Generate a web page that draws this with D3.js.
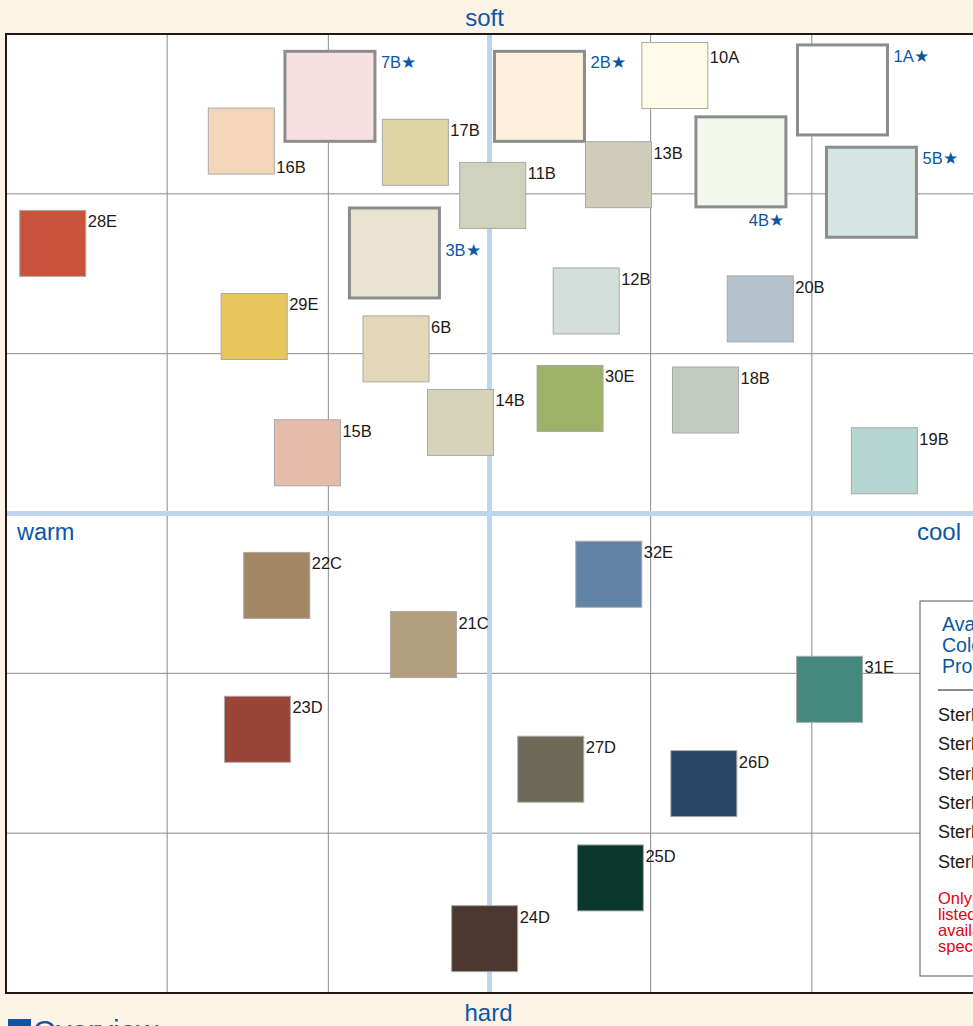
<!DOCTYPE html>
<html>
<head>
<meta charset="utf-8">
<script src="https://cdn.jsdelivr.net/npm/d3@7"></script>
<style>
  body { margin: 0; background: #fdf3e6; overflow: hidden; }
  svg { display: block; font-family: "Liberation Sans", Arial, sans-serif; }
</style>
</head>
<body>
<svg id="chart"></svg>
<script>
// colour chips: code, warm(-)/cool(+) position, hard(-)/soft(+) position, chip colour
const codes = ["28E", "16B", "7B", "17B", "11B", "3B", "2B", "10A", "13B", "4B", "1A", "5B",
               "29E", "6B", "12B", "20B", "15B", "14B", "30E", "18B", "19B",
               "22C", "21C", "32E", "31E", "23D", "27D", "26D", "25D", "24D"];
const warmCool = [-2.71, -1.54, -0.99, -0.46, 0.02, -0.59, 0.31, 1.15, 0.80, 1.56, 2.19, 2.37,
                  -1.46, -0.58, 0.60, 1.68, -1.13, -0.18, 0.50, 1.34, 2.45,
                  -1.32, -0.41, 0.74, 2.11, -1.44, 0.38, 1.33, 0.75, -0.03];
const softHard = [1.69, 2.33, 2.61, 2.26, 1.99, 1.63, 2.61, 2.74, 2.12, 2.20, 2.65, 2.01,
                  1.17, 1.03, 1.33, 1.28, 0.38, 0.57, 0.72, 0.71, 0.33,
                  -0.45, -0.82, -0.38, -1.10, -1.35, -1.60, -1.69, -2.28, -2.66];
const chipColors = ["#c9523a", "#f4d7b9", "#f5e1df", "#e0d6a4", "#cfd2bd", "#eae3d2", "#fef1dc",
                    "#fefbe6", "#d0ccbb", "#f4f8eb", "#ffffff", "#d6e5e1",
                    "#e8c55d", "#e2d8b8", "#d3dfdb", "#b6c2cb", "#e5bba9", "#d7d3b8", "#9db167",
                    "#c2cbc1", "#b6d6d1",
                    "#a38866", "#b39e7e", "#6183a6", "#44897d", "#9a4537", "#6c6957", "#284766",
                    "#0c372d", "#4c3830"];
const featured = ["7B", "3B", "2B", "4B", "1A", "5B"];

const axisWords = {top: "soft", bottom: "hard", left: "warm", right: "cool"};
const gridTicks = [-3, -2, -1, 0, 1, 2, 3];

const legendTitle = ["Available", "Colors by", "Product"];
const legendItems = ["Sterling I", "Sterling II", "Sterling III", "Sterling IV", "Sterling V", "Sterling VI"];
const legendNote = ["Only colors", "listed are", "available for", "specific products"];

const W = 973, H = 1026;
const blue = "#0b57a4", ink = "#231815";

const svg = d3.select("#chart").attr("width", W).attr("height", H);

const x = d3.scaleLinear().domain([-3, 3]).range([6, 973]);
const y = d3.scaleLinear().domain([-3, 3]).range([993, 34]);

// plot area
svg.append("rect")
    .attr("x", x(-3)).attr("y", y(3))
    .attr("width", x(3) - x(-3) + 10).attr("height", y(-3) - y(3))
    .attr("fill", "#fff");

// grid
svg.append("g").selectAll("line.v")
    .data(gridTicks.filter(d => d !== 0 && Math.abs(d) < 3))
    .join("line")
    .attr("x1", d => x(d)).attr("x2", d => x(d))
    .attr("y1", y(3)).attr("y2", y(-3))
    .attr("stroke", "#8a8a8a").attr("stroke-width", 1);

svg.append("g").selectAll("line.h")
    .data(gridTicks.filter(d => d !== 0 && Math.abs(d) < 3))
    .join("line")
    .attr("x1", x(-3)).attr("x2", W)
    .attr("y1", d => y(d)).attr("y2", d => y(d))
    .attr("stroke", "#8a8a8a").attr("stroke-width", 1);

// centre axes
svg.append("line")
    .attr("x1", x(-3)).attr("x2", W).attr("y1", y(0)).attr("y2", y(0))
    .attr("stroke", "#bcd6f0").attr("stroke-width", 5);
svg.append("line")
    .attr("x1", x(0)).attr("x2", x(0)).attr("y1", y(3)).attr("y2", y(-3))
    .attr("stroke", "#bcd6f0").attr("stroke-width", 5);

// frame
svg.append("rect")
    .attr("x", x(-3)).attr("y", y(3))
    .attr("width", x(3) - x(-3) + 10).attr("height", y(-3) - y(3))
    .attr("fill", "none").attr("stroke", ink).attr("stroke-width", 2);

// axis words
svg.append("text").attr("x", x(0) - 5).attr("y", 26).attr("text-anchor", "middle")
    .attr("font-size", 24).attr("fill", blue).text(axisWords.top);
svg.append("text").attr("x", x(0) - 1).attr("y", 1021).attr("text-anchor", "middle")
    .attr("font-size", 24).attr("fill", blue).text(axisWords.bottom);
svg.append("text").attr("x", 17).attr("y", 540)
    .attr("font-size", 23.5).attr("fill", blue).text(axisWords.left);
svg.append("text").attr("x", 961).attr("y", 540).attr("text-anchor", "end")
    .attr("font-size", 24).attr("fill", blue).text(axisWords.right);

// chips
const chips = codes.map((c, i) => ({
    code: c, wx: warmCool[i], sy: softHard[i], color: chipColors[i],
    star: featured.includes(c)
}));

// label placement exceptions
const labelSpot = {"16B": "bottom", "3B": "middle", "4B": "under", "10A": "low"};

const g = svg.append("g");
chips.forEach(d => {
    const s = d.star ? 90 : 66;
    const cx = x(d.wx), cy = y(d.sy);
    const left = cx - s / 2, top = cy - s / 2;
    g.append("rect")
        .attr("x", left).attr("y", top).attr("width", s).attr("height", s)
        .attr("fill", d.color)
        .attr("stroke", d.star ? "#8c8c8c" : "#a8a8a8")
        .attr("stroke-width", d.star ? 3 : 1);

    let lx = left + s + (d.star ? 6 : 2), ly = top + 17, anchor = "start";
    const spot = labelSpot[d.code];
    if (spot === "bottom") ly = top + s - 1;
    if (spot === "middle") ly = cy + 3;
    if (spot === "low") ly = top + 20;
    if (spot === "under") { lx = left + s - 2; ly = top + s + 19; anchor = "end"; }

    g.append("text")
        .attr("x", lx).attr("y", ly).attr("text-anchor", anchor)
        .attr("font-size", 16.5)
        .attr("fill", d.star ? blue : ink)
        .text(d.star ? d.code + "★" : d.code);
});

// legend box (runs off the right edge)
const lg = svg.append("g").attr("transform", "translate(920,601)");
lg.append("rect").attr("width", 120).attr("height", 375)
    .attr("fill", "#fff").attr("stroke", "#555").attr("stroke-width", 1);
lg.selectAll("text.title").data(legendTitle).join("text")
    .attr("x", 22).attr("y", (d, i) => 30 + i * 21)
    .attr("font-size", 19.5).attr("fill", blue).text(d => d);
lg.append("line").attr("x1", 18).attr("x2", 120).attr("y1", 89).attr("y2", 89)
    .attr("stroke", "#8a8a8a").attr("stroke-width", 2);
lg.selectAll("text.item").data(legendItems).join("text")
    .attr("x", 18).attr("y", (d, i) => 120 + i * 29.3)
    .attr("font-size", 18).attr("fill", ink).text(d => d);
lg.selectAll("text.note").data(legendNote).join("text")
    .attr("x", 18).attr("y", (d, i) => 303 + i * 16)
    .attr("font-size", 16.5).attr("fill", "#e60012").text(d => d);

// section heading, cut off by the window
svg.append("rect").attr("x", 8).attr("y", 1019).attr("width", 23).attr("height", 23).attr("fill", blue);
svg.append("text").attr("x", 33).attr("y", 1041)
    .attr("font-size", 30).attr("fill", blue).text("Overview");
</script>
</body>
</html>
